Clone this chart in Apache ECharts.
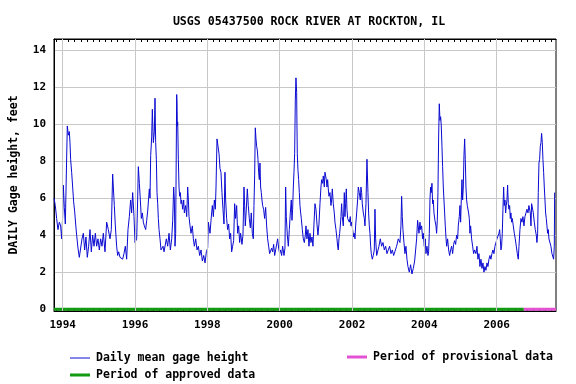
<!DOCTYPE html>
<html><head><meta charset="utf-8">
<script src="https://cdn.jsdelivr.net/npm/echarts@6/dist/echarts.min.js"></script>
<style>html,body{margin:0;padding:0;background:#fff}#c{width:576px;height:384px}</style>
</head><body><div id="c"></div>
<script>
const years = [
1993.760,1993.796,1993.833,1993.870,1993.907,1993.944,1993.972,1993.999,1994.018,1994.045,1994.073,1994.110,1994.128,1994.156,1994.183,1994.202,1994.220,1994.248,1994.276,1994.303,1994.331,1994.359,1994.386,1994.423,1994.460,1994.497,1994.534,1994.571,1994.608,1994.644,1994.681,1994.718,1994.755,1994.792,1994.829,1994.866,1994.903,1994.939,1994.976,1995.013,1995.050,1995.087,1995.124,1995.170,1995.216,1995.262,1995.308,1995.345,1995.382,1995.400,1995.428,1995.456,1995.492,1995.520,1995.548,1995.585,1995.621,1995.658,1995.695,1995.732,1995.769,1995.806,1995.843,1995.879,1995.907,1995.935,1995.972,
1996.000,1996.046,1996.074,1996.092,1996.120,1996.147,1996.175,1996.203,1996.230,1996.258,1996.295,1996.323,1996.350,1996.378,1996.396,1996.415,1996.433,1996.461,1996.479,1996.507,1996.535,1996.553,1996.571,1996.590,1996.608,1996.627,1996.645,1996.664,1996.691,1996.719,1996.747,1996.774,1996.802,1996.830,1996.866,1996.903,1996.940,1996.977,1997.014,1997.042,1997.069,1997.088,1997.106,1997.124,1997.152,1997.161,1997.171,1997.180,1997.198,1997.217,1997.235,1997.254,1997.272,1997.290,1997.318,1997.346,1997.364,1997.401,1997.429,1997.456,1997.475,1997.493,1997.521,1997.548,1997.585,1997.613,1997.641,1997.678,1997.714,1997.751,1997.788,1997.825,1997.862,1997.899,1997.936,1997.972,
1998.009,1998.028,1998.074,1998.101,1998.138,1998.166,1998.194,1998.221,1998.240,1998.267,1998.286,1998.304,1998.323,1998.350,1998.377,1998.404,1998.432,1998.460,1998.487,1998.506,1998.533,1998.561,1998.589,1998.616,1998.644,1998.672,1998.699,1998.727,1998.755,1998.782,1998.810,1998.838,1998.865,1998.893,1998.920,1998.957,1998.985,1999.013,1999.031,1999.049,1999.077,1999.105,1999.132,1999.160,1999.188,1999.215,1999.243,1999.271,1999.289,1999.308,1999.326,1999.345,1999.363,1999.381,1999.400,1999.418,1999.437,1999.455,1999.473,1999.492,1999.510,1999.529,1999.556,1999.584,1999.612,1999.639,1999.667,1999.695,1999.722,1999.750,1999.778,1999.805,1999.833,1999.861,1999.888,1999.916,1999.944,1999.971,1999.999,
2000.027,2000.054,2000.082,2000.119,2000.146,2000.165,2000.183,2000.211,2000.239,2000.266,2000.294,2000.321,2000.340,2000.358,2000.377,2000.395,2000.414,2000.432,2000.450,2000.469,2000.478,2000.487,2000.506,2000.524,2000.543,2000.561,2000.580,2000.598,2000.626,2000.653,2000.681,2000.709,2000.727,2000.754,2000.782,2000.810,2000.837,2000.865,2000.893,2000.920,2000.948,2000.976,2001.003,2001.031,2001.058,2001.086,2001.114,2001.141,2001.160,2001.187,2001.206,2001.234,2001.252,2001.270,2001.289,2001.307,2001.326,2001.344,2001.363,2001.390,2001.418,2001.436,2001.455,2001.482,2001.510,2001.529,2001.556,2001.584,2001.602,2001.621,2001.639,2001.658,2001.676,2001.694,2001.713,2001.731,2001.759,2001.787,2001.805,2001.823,2001.842,2001.860,2001.879,2001.897,2001.925,2001.952,2001.971,2001.989,
2002.017,2002.045,2002.063,2002.082,2002.100,2002.128,2002.155,2002.174,2002.201,2002.229,2002.247,2002.266,2002.284,2002.312,2002.340,2002.358,2002.386,2002.413,2002.432,2002.441,2002.459,2002.478,2002.496,2002.515,2002.533,2002.561,2002.588,2002.616,2002.635,2002.653,2002.681,2002.708,2002.745,2002.782,2002.819,2002.856,2002.893,2002.930,2002.966,2003.003,2003.040,2003.077,2003.114,2003.151,2003.188,2003.233,2003.279,2003.326,2003.353,2003.372,2003.390,2003.408,2003.436,2003.464,2003.491,2003.519,2003.547,2003.584,2003.620,2003.657,2003.694,2003.731,2003.759,2003.786,2003.814,2003.832,2003.851,2003.879,2003.897,2003.925,2003.952,2003.971,2003.998,
2004.026,2004.044,2004.072,2004.100,2004.118,2004.137,2004.155,2004.173,2004.192,2004.210,2004.229,2004.247,2004.266,2004.293,2004.321,2004.339,2004.358,2004.376,2004.395,2004.413,2004.432,2004.450,2004.468,2004.487,2004.505,2004.524,2004.542,2004.561,2004.579,2004.597,2004.616,2004.643,2004.671,2004.699,2004.727,2004.754,2004.782,2004.809,2004.837,2004.865,2004.892,2004.920,2004.938,2004.966,2004.985,2005.003,2005.021,2005.040,2005.058,2005.077,2005.095,2005.114,2005.132,2005.150,2005.169,2005.187,2005.206,2005.224,2005.243,2005.261,2005.279,2005.307,2005.335,2005.362,2005.390,2005.427,2005.454,2005.482,2005.510,2005.537,2005.565,2005.593,2005.620,2005.648,2005.676,2005.703,2005.731,2005.758,2005.786,2005.814,2005.841,2005.869,2005.897,2005.924,2005.952,2005.980,
2006.007,2006.035,2006.063,2006.081,2006.099,2006.118,2006.136,2006.155,2006.173,2006.192,2006.210,2006.229,2006.247,2006.265,2006.284,2006.302,2006.321,2006.339,2006.358,2006.376,2006.394,2006.413,2006.431,2006.459,2006.487,2006.514,2006.542,2006.570,2006.597,2006.616,2006.643,2006.671,2006.699,2006.726,2006.754,2006.782,2006.809,2006.837,2006.865,2006.892,2006.911,2006.929,2006.948,2006.966,2006.984,2007.012,2007.040,2007.067,2007.095,2007.113,2007.132,2007.150,2007.169,2007.187,2007.206,2007.224,2007.242,2007.261,2007.279,2007.298,2007.316,2007.335,2007.353,2007.371,2007.390,2007.408,2007.427,2007.445,2007.473,2007.500,2007.528,2007.556,2007.574,2007.593,2007.602,2007.611
];
const heights = [
6.0,5.6,4.9,4.3,4.7,4.5,3.8,5.0,6.7,5.5,4.6,4.5,9.9,9.4,9.6,9.0,8.1,7.4,6.6,5.8,5.3,4.6,4.0,3.3,2.8,2.9,3.8,4.1,3.2,3.9,2.8,3.4,4.3,3.1,4.0,3.4,4.1,3.4,3.8,3.2,3.8,3.4,4.1,3.1,4.7,4.3,3.8,4.3,7.3,6.6,5.6,4.5,3.4,2.9,3.1,2.8,2.9,2.7,3.0,3.4,2.7,4.3,5.0,5.9,5.2,6.3,5.0,
3.6,3.8,6.0,7.7,6.8,5.9,4.9,5.2,4.7,4.5,4.3,4.8,5.3,5.4,6.5,6.0,8.3,9.3,10.8,9.0,9.6,11.4,9.0,8.1,6.3,5.7,4.9,4.3,3.8,3.2,3.1,3.4,3.1,3.0,3.8,3.4,4.1,3.2,3.8,4.8,6.6,5.9,3.4,4.1,11.6,11.2,9.9,10.1,8.1,6.6,6.1,6.3,5.7,5.9,5.4,5.9,5.2,5.6,5.0,6.6,5.9,5.0,4.5,4.1,4.5,3.8,3.4,3.8,3.2,3.4,2.9,3.2,2.6,2.9,2.5,3.1,
3.3,4.7,4.1,4.8,5.6,5.0,5.9,5.4,6.6,9.2,9.3,9.2,8.4,7.6,7.4,6.3,5.4,4.6,7.4,5.9,4.9,4.3,4.6,3.8,4.1,3.1,3.4,3.7,5.7,4.9,5.6,4.1,4.5,3.6,4.1,3.5,4.0,6.6,5.6,4.5,5.4,6.5,5.6,4.9,4.4,5.2,4.1,3.8,5.6,7.2,9.8,9.2,8.8,8.6,8.1,7.4,7.0,7.9,6.6,6.3,5.9,5.6,5.4,4.9,5.5,4.5,3.8,3.4,3.0,3.0,3.3,3.1,3.5,2.9,3.2,3.1,3.8,3.3,3.0,
3.2,2.9,3.4,2.9,3.3,6.6,5.0,4.0,3.4,4.3,5.2,5.9,4.8,5.4,6.6,7.4,8.4,11.3,12.5,11.7,9.9,8.4,7.5,7.0,6.3,5.6,5.2,4.9,4.3,3.8,3.6,4.0,4.5,3.8,4.3,3.4,4.1,3.6,3.9,3.4,4.6,5.7,5.4,4.6,4.0,4.6,5.7,6.6,7.0,6.8,7.2,6.6,7.4,7.5,7.0,6.6,7.0,6.5,6.1,6.3,5.6,5.9,6.5,5.7,5.2,4.7,4.3,3.8,3.4,3.2,3.8,4.1,4.5,5.0,5.7,5.0,4.5,6.3,5.0,5.7,6.5,5.4,4.9,5.0,4.7,5.0,4.5,4.7,
4.3,3.9,4.1,3.8,4.5,5.2,5.9,6.6,6.3,5.9,6.6,6.3,5.7,5.2,4.9,4.5,5.7,8.1,8.0,6.3,5.2,4.5,4.1,3.4,3.0,2.7,2.9,3.2,5.4,3.8,2.9,3.0,3.4,3.8,3.4,3.6,3.2,3.4,3.0,3.2,3.4,3.0,3.2,2.9,3.0,3.4,3.8,3.6,4.5,6.1,5.0,4.3,3.6,3.0,3.4,2.7,2.3,2.0,2.4,1.9,2.2,2.6,3.2,3.8,4.8,4.9,4.1,4.7,4.3,4.5,3.8,4.1,3.4,
3.8,3.0,3.4,2.9,3.1,4.1,5.9,6.6,6.3,6.8,5.7,5.9,5.2,4.8,4.5,4.1,4.8,6.3,9.3,11.1,10.2,10.4,9.9,8.8,7.7,6.6,5.9,5.2,4.5,3.9,3.4,3.8,3.2,2.9,3.2,3.4,3.0,3.5,3.7,3.5,4.0,3.8,4.5,5.0,5.6,4.7,5.9,7.0,5.9,6.6,8.3,9.2,8.1,6.6,5.9,5.6,5.7,5.2,4.9,4.1,4.5,3.8,3.4,3.0,3.2,3.0,3.4,2.7,3.0,2.3,2.7,2.2,2.5,2.0,2.3,2.1,2.5,2.3,2.7,2.9,2.7,3.0,3.2,3.0,3.4,3.6,
3.8,3.9,4.1,4.3,3.8,3.2,3.4,4.1,5.4,6.6,5.6,5.9,5.2,5.6,5.9,6.7,5.7,5.4,5.6,4.9,5.2,4.7,4.9,4.5,4.1,3.8,3.4,3.0,2.7,3.4,4.3,4.9,4.7,5.0,4.5,5.0,4.9,5.4,5.2,5.6,5.7,5.2,4.5,5.7,5.6,5.2,4.7,4.3,4.0,3.6,4.1,6.3,7.9,8.1,8.8,9.0,9.5,9.0,8.1,7.4,6.6,5.9,5.2,4.9,4.5,4.1,4.3,3.8,3.8,3.4,3.0,2.9,2.7,3.4,6.3,6.3
];
const approvedPeriod = [1993.76, 2006.75];
const provisionalPeriod = [2006.75, 2007.64];
const xRange = [1993.76, 2007.64];
const yRange = [-0.1, 14.6];
const yearLabels = [1994, 1996, 1998, 2000, 2002, 2004, 2006];
const heightLabels = [0, 2, 4, 6, 8, 10, 12, 14];
const titleText = 'USGS 05437500 ROCK RIVER AT ROCKTON, IL';
const yName = 'DAILY Gage height, feet';
const names = ['Daily mean gage height', 'Period of approved data', 'Period of provisional data'];

const FONT = "'DejaVu Sans Mono', monospace";
const minorTicks = [];
for (let k = Math.ceil(xRange[0] * 6); k <= Math.floor(xRange[1] * 6); k++) minorTicks.push(k / 6);

const chart = echarts.init(document.getElementById('c'), null, {renderer: 'canvas'});
const txt = {fontFamily: FONT, fontWeight: 'bold', color: '#000'};
const legendBase = {orient: 'horizontal', icon: 'rect', itemWidth: 20, itemGap: 6, selectedMode: false,
  textStyle: Object.assign({fontSize: 11.5, padding: [0, 0, 0, 1]}, txt), padding: 0};
chart.setOption({
  animation: false,
  backgroundColor: '#fff',
  title: {text: titleText, left: 304, top: 11, textAlign: 'center',
    textStyle: Object.assign({fontSize: 11.6}, txt)},
  grid: {left: 54, right: 20, top: 39, bottom: 73, outerBoundsMode: 'none', containLabel: false,
    show: true, borderColor: '#000', borderWidth: 1, backgroundColor: 'transparent'},
  legend: [
    Object.assign({}, legendBase, {data: [names[0]], left: 70, top: 352, itemHeight: 1}),
    Object.assign({}, legendBase, {data: [names[1]], left: 70, top: 369, itemHeight: 3}),
    Object.assign({}, legendBase, {data: [names[2]], left: 347, top: 351, itemHeight: 3})
  ],
  xAxis: [
    {type: 'value', position: 'bottom', min: xRange[0], max: xRange[1],
      axisLine: {show: true, onZero: false, lineStyle: {color: '#000'}},
      axisTick: {show: false, customValues: yearLabels},
      axisLabel: {customValues: yearLabels, formatter: v => String(Math.round(v)), fontSize: 11, margin: 9, fontFamily: FONT, fontWeight: 'bold', color: '#000'},
      splitLine: {show: false}},
    {type: 'value', position: 'top', min: xRange[0], max: xRange[1],
      axisLine: {show: true, onZero: false, lineStyle: {color: '#000'}},
      axisTick: {show: true, inside: true, length: 3, customValues: minorTicks, lineStyle: {color: '#000'}},
      axisLabel: {show: false}, splitLine: {show: false}},
    {type: 'value', position: 'bottom', min: xRange[0], max: xRange[1],
      axisLine: {show: false, onZero: false},
      axisTick: {show: true, inside: true, length: 3, customValues: minorTicks, lineStyle: {color: '#000'}},
      axisLabel: {show: false}, splitLine: {show: false}}
  ],
  yAxis: {type: 'value', min: yRange[0], max: yRange[1],
    name: yName, nameLocation: 'middle', nameGap: 34, nameRotate: 90,
    nameTextStyle: Object.assign({fontSize: 11.5}, txt),
    axisLine: {show: true, lineStyle: {color: '#000'}},
    axisTick: {show: false, customValues: heightLabels},
    axisLabel: {customValues: heightLabels, fontSize: 11, margin: 8, fontFamily: FONT, fontWeight: 'bold', color: '#000'},
    splitLine: {show: true, lineStyle: {color: '#c8c8c8', width: 1}}},
  series: [
    {name: 'grid-years', type: 'line', xAxisIndex: 0, data: [], z: 1, silent: true,
      markLine: {silent: true, symbol: 'none', label: {show: false}, animation: false,
        lineStyle: {color: '#c8c8c8', width: 1, type: 'solid'},
        data: yearLabels.map(v => ({xAxis: v}))}},
    {name: names[0], type: 'line', xAxisIndex: 0, showSymbol: false, symbol: 'none',
      data: years.map((y, i) => [y, heights[i]]),
      lineStyle: {color: '#0a0ad2', width: 1}, itemStyle: {color: '#0a0ad2'}, z: 3},
    {name: names[1], type: 'line', xAxisIndex: 0, showSymbol: false, symbol: 'none',
      data: approvedPeriod.map(x => [x, 0]),
      lineStyle: {color: '#139a13', width: 3}, itemStyle: {color: '#139a13'}, z: 4},
    {name: names[2], type: 'line', xAxisIndex: 0, showSymbol: false, symbol: 'none',
      data: provisionalPeriod.map(x => [x, 0]),
      lineStyle: {color: '#e352d4', width: 3}, itemStyle: {color: '#e352d4'}, z: 4}
  ]
});
</script></body></html>
